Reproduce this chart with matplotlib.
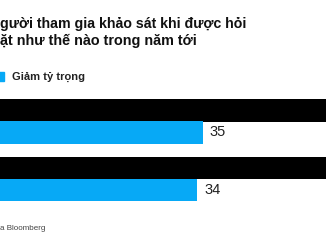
import matplotlib
matplotlib.use("Agg")
import matplotlib.pyplot as plt
import numpy as np

# Data
categories = ["Nhóm 1", "Nhóm 2"]
tang_ty_trong = [62, 62]      # black bars (extend beyond the visible frame)
giam_ty_trong = [35, 34]      # blue bars

title_line1 = "gười tham gia khảo sát khi được hỏi"
title_line2 = "ặt như thế nào trong năm tới"
legend_label = "Giảm tỷ trọng"
source_text = "a Bloomberg"

BLUE = "#07a9f6"
W, H = 326, 245
DPI = 100

fig = plt.figure(figsize=(W / DPI, H / DPI), dpi=DPI)
fig.patch.set_facecolor("white")

def fx(px):
    return px / W

def fy(py):
    return 1 - py / H

# axes occupying pixel rows 90..210, full width
ax = fig.add_axes([0, fy(210), 1, fy(90) - fy(210)])
px_per_cat = 57.4
ax.set_ylim(0 + (210 - 121.5) / px_per_cat, 0 - (121.5 - 90) / px_per_cat)
ax.set_xlim(0, W / 5.8)

y = np.arange(len(categories))
off = 11 / px_per_cat
bh = 22.5 / px_per_cat
ax.barh(y - off, tang_ty_trong, height=bh, color="black")
bars = ax.barh(y + off, giam_ty_trong, height=bh, color=BLUE)
for b, v in zip(bars, giam_ty_trong):
    ax.annotate(f"{v}", (b.get_width(), b.get_y() + b.get_height() / 2),
                xytext=(5, 0), textcoords="offset points", va="center", ha="left",
                fontsize=10.5, family="Liberation Sans", color="#222222")
ax.axis("off")

# Title
fig.text(fx(0), fy(24), title_line1, ha="left", va="center", fontsize=10.2,
         fontweight="bold", family="Liberation Sans", color="#111111")
fig.text(fx(0), fy(41), title_line2, ha="left", va="center", fontsize=10.4,
         fontweight="bold", family="Liberation Sans", color="#111111")

# Legend
fig.patches.append(matplotlib.patches.Rectangle((fx(-6), fy(81)), fx(10), fy(72) - fy(81),
                                                transform=fig.transFigure, color=BLUE))
fig.text(fx(12), fy(77), legend_label, ha="left", va="center", fontsize=8,
         fontweight="bold", family="Liberation Sans", color="#222222")

# Source
fig.text(fx(0), fy(228), source_text, ha="left", va="center", fontsize=5.8,
         family="Liberation Sans", color="#444444")

fig.savefig("out.png", dpi=DPI)
